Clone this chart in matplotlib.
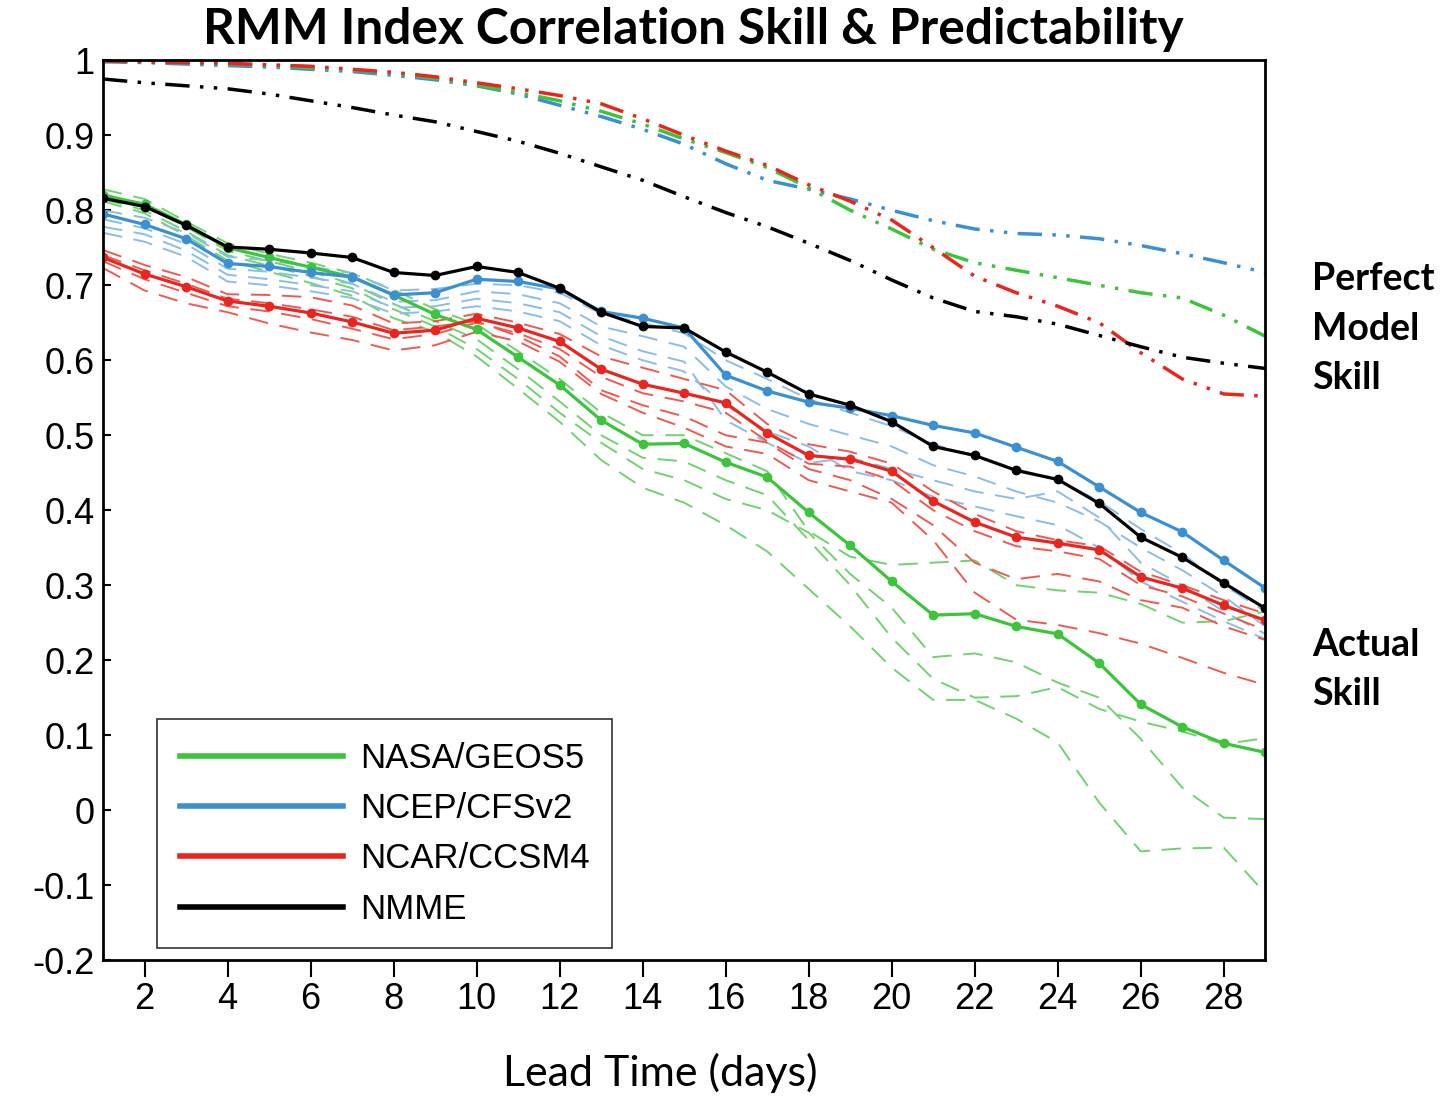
import numpy as np
import matplotlib.pyplot as plt

# lead time (days)
days = np.arange(1, 30)

# ensemble-mean actual skill
nasa = [0.820, 0.808, 0.781, 0.750, 0.737, 0.724, 0.711, 0.687, 0.661, 0.641,
        0.604, 0.567, 0.520, 0.488, 0.489, 0.464, 0.444, 0.397, 0.353, 0.305,
        0.260, 0.262, 0.245, 0.235, 0.196, 0.141, 0.111, 0.089, 0.077]
ncep = [0.795, 0.781, 0.762, 0.729, 0.725, 0.717, 0.711, 0.687, 0.690, 0.708,
        0.705, 0.695, 0.665, 0.656, 0.643, 0.580, 0.559, 0.544, 0.536, 0.526,
        0.513, 0.503, 0.484, 0.465, 0.431, 0.397, 0.371, 0.333, 0.296]
ncar = [0.737, 0.715, 0.698, 0.679, 0.672, 0.663, 0.651, 0.636, 0.640, 0.656,
        0.643, 0.625, 0.588, 0.568, 0.556, 0.543, 0.503, 0.473, 0.468, 0.452,
        0.412, 0.384, 0.364, 0.356, 0.347, 0.311, 0.296, 0.273, 0.253]
nmme = [0.816, 0.805, 0.780, 0.751, 0.748, 0.743, 0.737, 0.717, 0.713, 0.725,
        0.717, 0.696, 0.664, 0.645, 0.643, 0.611, 0.584, 0.555, 0.540, 0.518,
        0.485, 0.473, 0.453, 0.441, 0.409, 0.364, 0.337, 0.303, 0.269]

# individual members (thin dashed)
nasa_members = [
    [0.828, 0.815, 0.785, 0.756, 0.742, 0.730, 0.716, 0.694, 0.668, 0.648,
     0.612, 0.575, 0.530, 0.500, 0.500, 0.476, 0.452, 0.372, 0.338, 0.327,
     0.330, 0.333, 0.300, 0.293, 0.290, 0.275, 0.250, 0.252, 0.265],
    [0.822, 0.806, 0.778, 0.746, 0.732, 0.718, 0.702, 0.675, 0.652, 0.628,
     0.588, 0.545, 0.500, 0.470, 0.465, 0.440, 0.420, 0.360, 0.300, 0.230,
     0.175, 0.150, 0.152, 0.164, 0.135, 0.118, 0.105, 0.088, 0.096],
    [0.815, 0.800, 0.772, 0.740, 0.726, 0.712, 0.696, 0.668, 0.645, 0.615,
     0.575, 0.530, 0.490, 0.455, 0.440, 0.415, 0.400, 0.370, 0.315, 0.270,
     0.204, 0.209, 0.197, 0.170, 0.150, 0.095, 0.030, -0.010, -0.012],
    [0.812, 0.796, 0.766, 0.733, 0.718, 0.703, 0.686, 0.656, 0.638, 0.605,
     0.562, 0.518, 0.467, 0.430, 0.410, 0.380, 0.345, 0.295, 0.245, 0.190,
     0.147, 0.147, 0.122, 0.090, 0.010, -0.055, -0.051, -0.050, -0.111],
]
ncep_members = [
    [0.800, 0.790, 0.770, 0.738, 0.733, 0.725, 0.716, 0.693, 0.695, 0.702,
     0.700, 0.690, 0.662, 0.650, 0.636, 0.600, 0.575, 0.548, 0.530, 0.512,
     0.488, 0.472, 0.455, 0.440, 0.412, 0.375, 0.342, 0.300, 0.265],
    [0.788, 0.776, 0.755, 0.722, 0.718, 0.710, 0.702, 0.678, 0.680, 0.692,
     0.688, 0.676, 0.645, 0.632, 0.618, 0.565, 0.535, 0.515, 0.500, 0.485,
     0.460, 0.445, 0.425, 0.410, 0.385, 0.350, 0.320, 0.285, 0.245],
    [0.778, 0.768, 0.746, 0.714, 0.708, 0.700, 0.692, 0.670, 0.672, 0.682,
     0.676, 0.664, 0.632, 0.612, 0.598, 0.520, 0.490, 0.463, 0.470, 0.455,
     0.440, 0.425, 0.415, 0.425, 0.390, 0.330, 0.300, 0.265, 0.235],
    [0.770, 0.758, 0.738, 0.705, 0.700, 0.692, 0.683, 0.662, 0.665, 0.672,
     0.665, 0.652, 0.620, 0.600, 0.585, 0.540, 0.505, 0.485, 0.452, 0.440,
     0.418, 0.405, 0.392, 0.380, 0.350, 0.305, 0.278, 0.252, 0.228],
]
ncar_members = [
    [0.747, 0.727, 0.711, 0.688, 0.687, 0.684, 0.673, 0.649, 0.652, 0.662,
     0.650, 0.635, 0.605, 0.590, 0.575, 0.560, 0.515, 0.488, 0.478, 0.462,
     0.425, 0.395, 0.372, 0.360, 0.352, 0.318, 0.300, 0.280, 0.262],
    [0.732, 0.708, 0.690, 0.672, 0.665, 0.655, 0.642, 0.628, 0.635, 0.650,
     0.636, 0.615, 0.578, 0.556, 0.545, 0.530, 0.492, 0.462, 0.458, 0.440,
     0.400, 0.372, 0.352, 0.345, 0.335, 0.300, 0.285, 0.262, 0.240],
    [0.740, 0.720, 0.702, 0.682, 0.676, 0.668, 0.658, 0.640, 0.645, 0.652,
     0.632, 0.605, 0.560, 0.540, 0.525, 0.500, 0.490, 0.455, 0.440, 0.415,
     0.380, 0.330, 0.308, 0.315, 0.305, 0.280, 0.270, 0.245, 0.227],
    [0.723, 0.693, 0.676, 0.664, 0.649, 0.637, 0.627, 0.613, 0.620, 0.638,
     0.625, 0.598, 0.555, 0.530, 0.510, 0.485, 0.475, 0.440, 0.425, 0.410,
     0.360, 0.290, 0.254, 0.247, 0.236, 0.222, 0.203, 0.183, 0.167],
]

# perfect model skill (dash-dot-dot)
nasa_pm = [0.999, 0.998, 0.997, 0.995, 0.993, 0.990, 0.987, 0.983, 0.976, 0.967,
           0.957, 0.946, 0.932, 0.915, 0.895, 0.877, 0.857, 0.830, 0.800, 0.775,
           0.748, 0.730, 0.720, 0.710, 0.700, 0.690, 0.683, 0.660, 0.632]
ncep_pm = [0.998, 0.997, 0.995, 0.993, 0.991, 0.988, 0.985, 0.980, 0.974, 0.966,
           0.955, 0.940, 0.925, 0.908, 0.888, 0.862, 0.840, 0.828, 0.815, 0.800,
           0.786, 0.775, 0.769, 0.767, 0.762, 0.753, 0.742, 0.730, 0.717]
ncar_pm = [0.999, 0.998, 0.997, 0.996, 0.994, 0.992, 0.988, 0.984, 0.978, 0.970,
           0.962, 0.953, 0.942, 0.922, 0.900, 0.879, 0.860, 0.834, 0.812, 0.787,
           0.750, 0.712, 0.690, 0.672, 0.650, 0.610, 0.575, 0.555, 0.552]
nmme_pm = [0.975, 0.970, 0.966, 0.962, 0.955, 0.946, 0.937, 0.927, 0.918, 0.905,
           0.892, 0.876, 0.858, 0.840, 0.818, 0.797, 0.778, 0.756, 0.733, 0.707,
           0.683, 0.665, 0.658, 0.648, 0.633, 0.618, 0.604, 0.596, 0.589]

labels = ['NASA/GEOS5', 'NCEP/CFSv2', 'NCAR/CCSM4', 'NMME']
colors = ['#3cc43c', '#3a90d2', '#e8261f', 'black']
light = ['#6fd36f', '#8cbde6', '#ee5a52']

fig = plt.figure(figsize=(14.51, 10.96), dpi=100)
ax = fig.add_axes([0.071, 0.124, 0.801, 0.821])

ddd = (0, (7, 3, 1, 3, 1, 3))
for pm, c in zip([ncep_pm, nasa_pm, ncar_pm, nmme_pm], [colors[1], colors[0], colors[2], colors[3]]):
    ax.plot(days, pm, color=c, lw=2.5, linestyle=ddd)

for members, c in zip([nasa_members, ncep_members, ncar_members], light):
    for m in members:
        ax.plot(days, m, color=c, lw=1.4, linestyle=(0, (10, 6)))

for vals, c, lab in zip([nasa, ncep, ncar, nmme], colors, labels):
    ax.plot(days, vals, color=c, lw=2.3, marker='o', markersize=6, label=lab)

ax.set_xlim(1, 29)
ax.set_ylim(-0.2, 1.0)
ax.set_xticks(np.arange(2, 29, 2))
ax.set_yticks(np.arange(-0.2, 1.01, 0.1))
ax.set_yticklabels(['-0.2', '-0.1', '0', '0.1', '0.2', '0.3', '0.4', '0.5',
                    '0.6', '0.7', '0.8', '0.9', '1'])
ax.tick_params(axis='x', direction='out', length=12, width=1.5, labelsize=26, pad=4)
ax.tick_params(axis='y', direction='in', length=6, width=1.5, labelsize=26, pad=6)
for lab in ax.get_xticklabels() + ax.get_yticklabels():
    lab.set_family('Liberation Sans')
for s in ax.spines.values():
    s.set_linewidth(2)

leg = ax.legend(loc='lower left', bbox_to_anchor=(0.0465, 0.013), borderaxespad=0,
                handlelength=4.7, handletextpad=0.5, labelspacing=0.5,
                fancybox=False, frameon=True, borderpad=0.65,
                prop={'family': 'Liberation Sans', 'size': 25})
leg.get_frame().set_edgecolor('black')
leg.get_frame().set_linewidth(1.2)
for h in leg.get_lines():
    h.set_marker('')
    h.set_linewidth(4)

fig.text(0.4775, 0.973, 'RMM Index Correlation Skill & Predictability',
         ha='center', va='center', fontsize=35.7, fontweight='bold', family='Lato')
fig.text(0.455, 0.021, 'Lead Time (days)', ha='center', va='center',
         fontsize=31, family='Lato')
fig.text(0.904, 0.700, 'Perfect\nModel\nSkill', ha='left', va='center',
         fontsize=27, fontweight='bold', family='Lato', linespacing=1.55)
fig.text(0.904, 0.389, 'Actual\nSkill', ha='left', va='center',
         fontsize=27, fontweight='bold', family='Lato', linespacing=1.55)

fig.savefig('out.png', dpi=100)
